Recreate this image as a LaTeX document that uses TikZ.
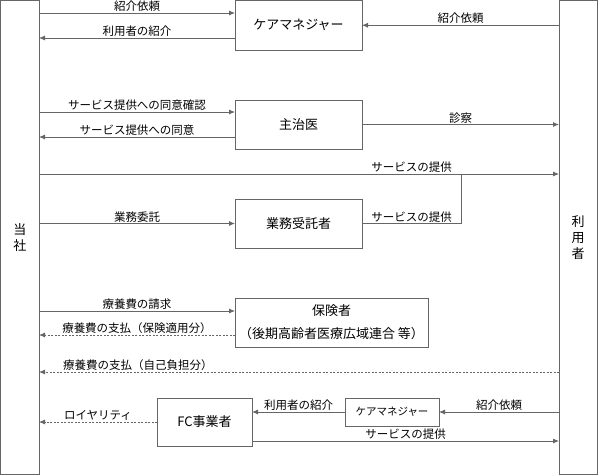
\documentclass[tikz,border=0pt]{standalone}
\usepackage{fontspec}
\setmainfont{Noto Sans CJK JP}
\usetikzlibrary{positioning, arrows.meta, calc}

\begin{document}
\begin{tikzpicture}[
    x=1pt, y=-1pt,
    box/.style={draw=black!60, line width=0.8pt, inner sep=0pt, outer sep=0pt,
                align=center, font=\fontsize{13}{16}\selectfont},
    flow/.style={color=black!60, line width=0.8pt, -{Latex[length=6pt,width=5pt]}},
    back/.style={flow, dash pattern=on 2pt off 1.5pt},
    lbl/.style={above, inner sep=1pt, text=black, font=\fontsize{11.5}{13}\selectfont}
  ]
  \useasboundingbox (0,0) rectangle (598,475);

  % Akteure links und rechts
  \node[box, minimum width=38.5pt, minimum height=473.5pt] (tousha) at (19.75,237.25) {当\\社};
  \node[box, minimum width=38pt, minimum height=473.5pt] (riyousha) at (578,237.25) {利\\用\\者};

  \node[box, minimum width=127pt, minimum height=49.5pt] (care) at (298.5,25.25) {ケアマネジャー};
  \node[box, minimum width=127pt, minimum height=49pt] (doctor) at (298.5,124.5) {主治医};
  \node[box, minimum width=127pt, minimum height=49pt] (itaku) at (298.5,223.5) {業務受託者};
  \node[box, minimum width=193pt, minimum height=49pt] (hoken) at (331.5,322.5)
    {保険者\\[7pt]（後期高齢者医療広域連合\ 等）};
  \node[box, minimum width=95pt, minimum height=48pt] (fc) at (204.5,422) {FC事業者};
  \node[box, minimum width=94pt, minimum height=28pt, font=\fontsize{10.5}{12}\selectfont]
    (care2) at (392,412) {ケアマネジャー};

  \coordinate (join) at (461,174);

  % Ketten oben
  \draw[flow] (tousha.east |- 0,13) -- node[lbl] {紹介依頼} (care.west |- 0,13);
  \draw[flow] (care.west |- 0,38) -- node[lbl] {利用者の紹介} (tousha.east |- 0,38);
  \draw[flow] (riyousha.west |- care.east) -- node[lbl] {紹介依頼} (care.east);

  \draw[flow] (tousha.east |- 0,112) -- node[lbl] {サービス提供への同意確認} (doctor.west |- 0,112);
  \draw[flow] (doctor.west |- 0,137) -- node[lbl] {サービス提供への同意} (tousha.east |- 0,137);
  \draw[flow] (doctor.east) -- node[lbl] {診察} (riyousha.west |- doctor.east);

  % Leistung ueber Auftragnehmer
  \draw[flow] (tousha.east |- join) -- (riyousha.west |- join);
  \draw[flow] (tousha.east |- itaku.west) -- node[lbl] {業務委託} (itaku.west);
  \draw[color=black!60, line width=0.8pt] (itaku.east) -- node[lbl] (svcB) {サービスの提供} (itaku.east -| join) -- (join);
  \node[lbl] (svcA) at (svcB.center |- join) {サービスの提供};

  % Abrechnung
  \draw[flow] (tousha.east |- 0,311) -- node[lbl] {療養費の請求} (hoken.west |- 0,311);
  \draw[back] (hoken.west |- 0,335) -- node[lbl] {療養費の支払（保険適用分）} (tousha.east |- 0,335);
  \draw[back] (riyousha.west |- 0,372) -- node[lbl, pos=0.81] {療養費の支払（自己負担分）} (tousha.east |- 0,372);

  % FC unten
  \draw[back] (fc.west) -- node[lbl] {ロイヤリティ} (tousha.east |- fc.west);
  \draw[flow] (care2.west) -- node[lbl] {利用者の紹介} (fc.east |- care2.west);
  \draw[flow] (riyousha.west |- care2.east) -- node[lbl] {紹介依頼} (care2.east);
  \draw[flow] (fc.east |- 0,441) -- node[lbl] {サービスの提供} (riyousha.west |- 0,441);
\end{tikzpicture}
\end{document}
